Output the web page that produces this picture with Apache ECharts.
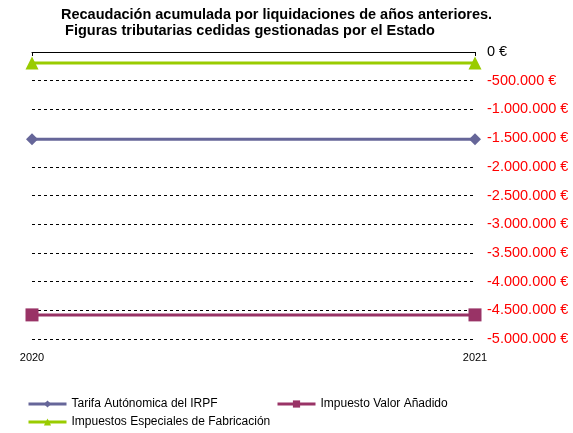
<!DOCTYPE html>
<html>
<head>
<meta charset="utf-8">
<script src="https://cdn.jsdelivr.net/npm/echarts@6/dist/echarts.min.js"></script>
<style>
  html, body { margin: 0; padding: 0; background: #fff; }
  #chart { width: 573px; height: 433px; }
</style>
</head>
<body>
<div id="chart"></div>
<script>
const years = ['2020', '2021'];
const irpf = [-1520000, -1520000];
const iva = [-4580000, -4580000];
const iiee = [-190000, -190000];
const seriesNames = ['Tarifa Autónomica del IRPF', 'Impuesto Valor Añadido', 'Impuestos Especiales de Fabricación'];

const FONT = '"Liberation Sans", Arial, sans-serif';

const formatEuro = (v) => {
  const s = Math.abs(v).toString().replace(/\B(?=(\d{3})+(?!\d))/g, '.');
  return (v < 0 ? '-' : '') + s + ' €';
};

const legendItem = (name, left, top) => ({
  data: [name],
  left: left,
  top: top,
  padding: 0,
  itemWidth: 38,
  itemHeight: 9,
  itemGap: 0,
  itemStyle: { borderWidth: 0 },
  lineStyle: { width: 3 },
  textStyle: { fontFamily: FONT, fontSize: 12, color: '#000', padding: [0, 0, 0, 0] }
});

const getOptionChart = () => {
  return {
    animation: false,
    title: {
      text: 'Recaudación acumulada por liquidaciones de años anteriores.\n Figuras tributarias cedidas gestionadas por el Estado',
      left: 56,
      top: 2,
      textStyle: { fontFamily: FONT, fontSize: 14.5, fontWeight: 'bold', color: '#000', lineHeight: 16 }
    },
    legend: [
      legendItem(seriesNames[0], 27, 398),
      legendItem(seriesNames[1], 276, 398),
      legendItem(seriesNames[2], 27, 416)
    ],
    grid: { left: 32, right: 98, top: 52, bottom: 94 },
    xAxis: [
      {
        type: 'category',
        data: years,
        boundaryGap: false,
        position: 'top',
        axisLine: { onZero: false, lineStyle: { color: '#000', width: 1 } },
        axisTick: { show: true, inside: true, length: 4, lineStyle: { color: '#000' } },
        axisLabel: { show: false }
      },
      {
        type: 'category',
        data: years,
        boundaryGap: false,
        position: 'bottom',
        axisLine: { show: false },
        axisTick: { show: false },
        axisLabel: { fontFamily: FONT, fontSize: 11, color: '#000', margin: 13 }
      }
    ],
    yAxis: {
      type: 'value',
      position: 'right',
      min: -5000000,
      max: 0,
      interval: 500000,
      axisLine: { show: false },
      axisTick: { show: false },
      splitLine: { lineStyle: { color: '#000', type: [3, 3], width: 1 } },
      axisLabel: {
        fontFamily: FONT,
        fontSize: 14.5,
        margin: 12,
        formatter: formatEuro,
        color: (v) => (Number(v) === 0 ? '#000' : '#ff0000')
      }
    },
    series: [
      {
        name: seriesNames[0],
        type: 'line',
        data: irpf,
        symbol: 'diamond',
        symbolSize: 12,
        color: '#666699',
        lineStyle: { width: 3 }
      },
      {
        name: seriesNames[1],
        type: 'line',
        data: iva,
        symbol: 'rect',
        symbolSize: 13,
        color: '#993366',
        lineStyle: { width: 3 }
      },
      {
        name: seriesNames[2],
        type: 'line',
        data: iiee,
        symbol: 'triangle',
        symbolSize: 13,
        color: '#99CC00',
        lineStyle: { width: 3 }
      }
    ]
  };
};

const chart = echarts.init(document.getElementById('chart'));
chart.setOption(getOptionChart());
</script>
</body>
</html>
